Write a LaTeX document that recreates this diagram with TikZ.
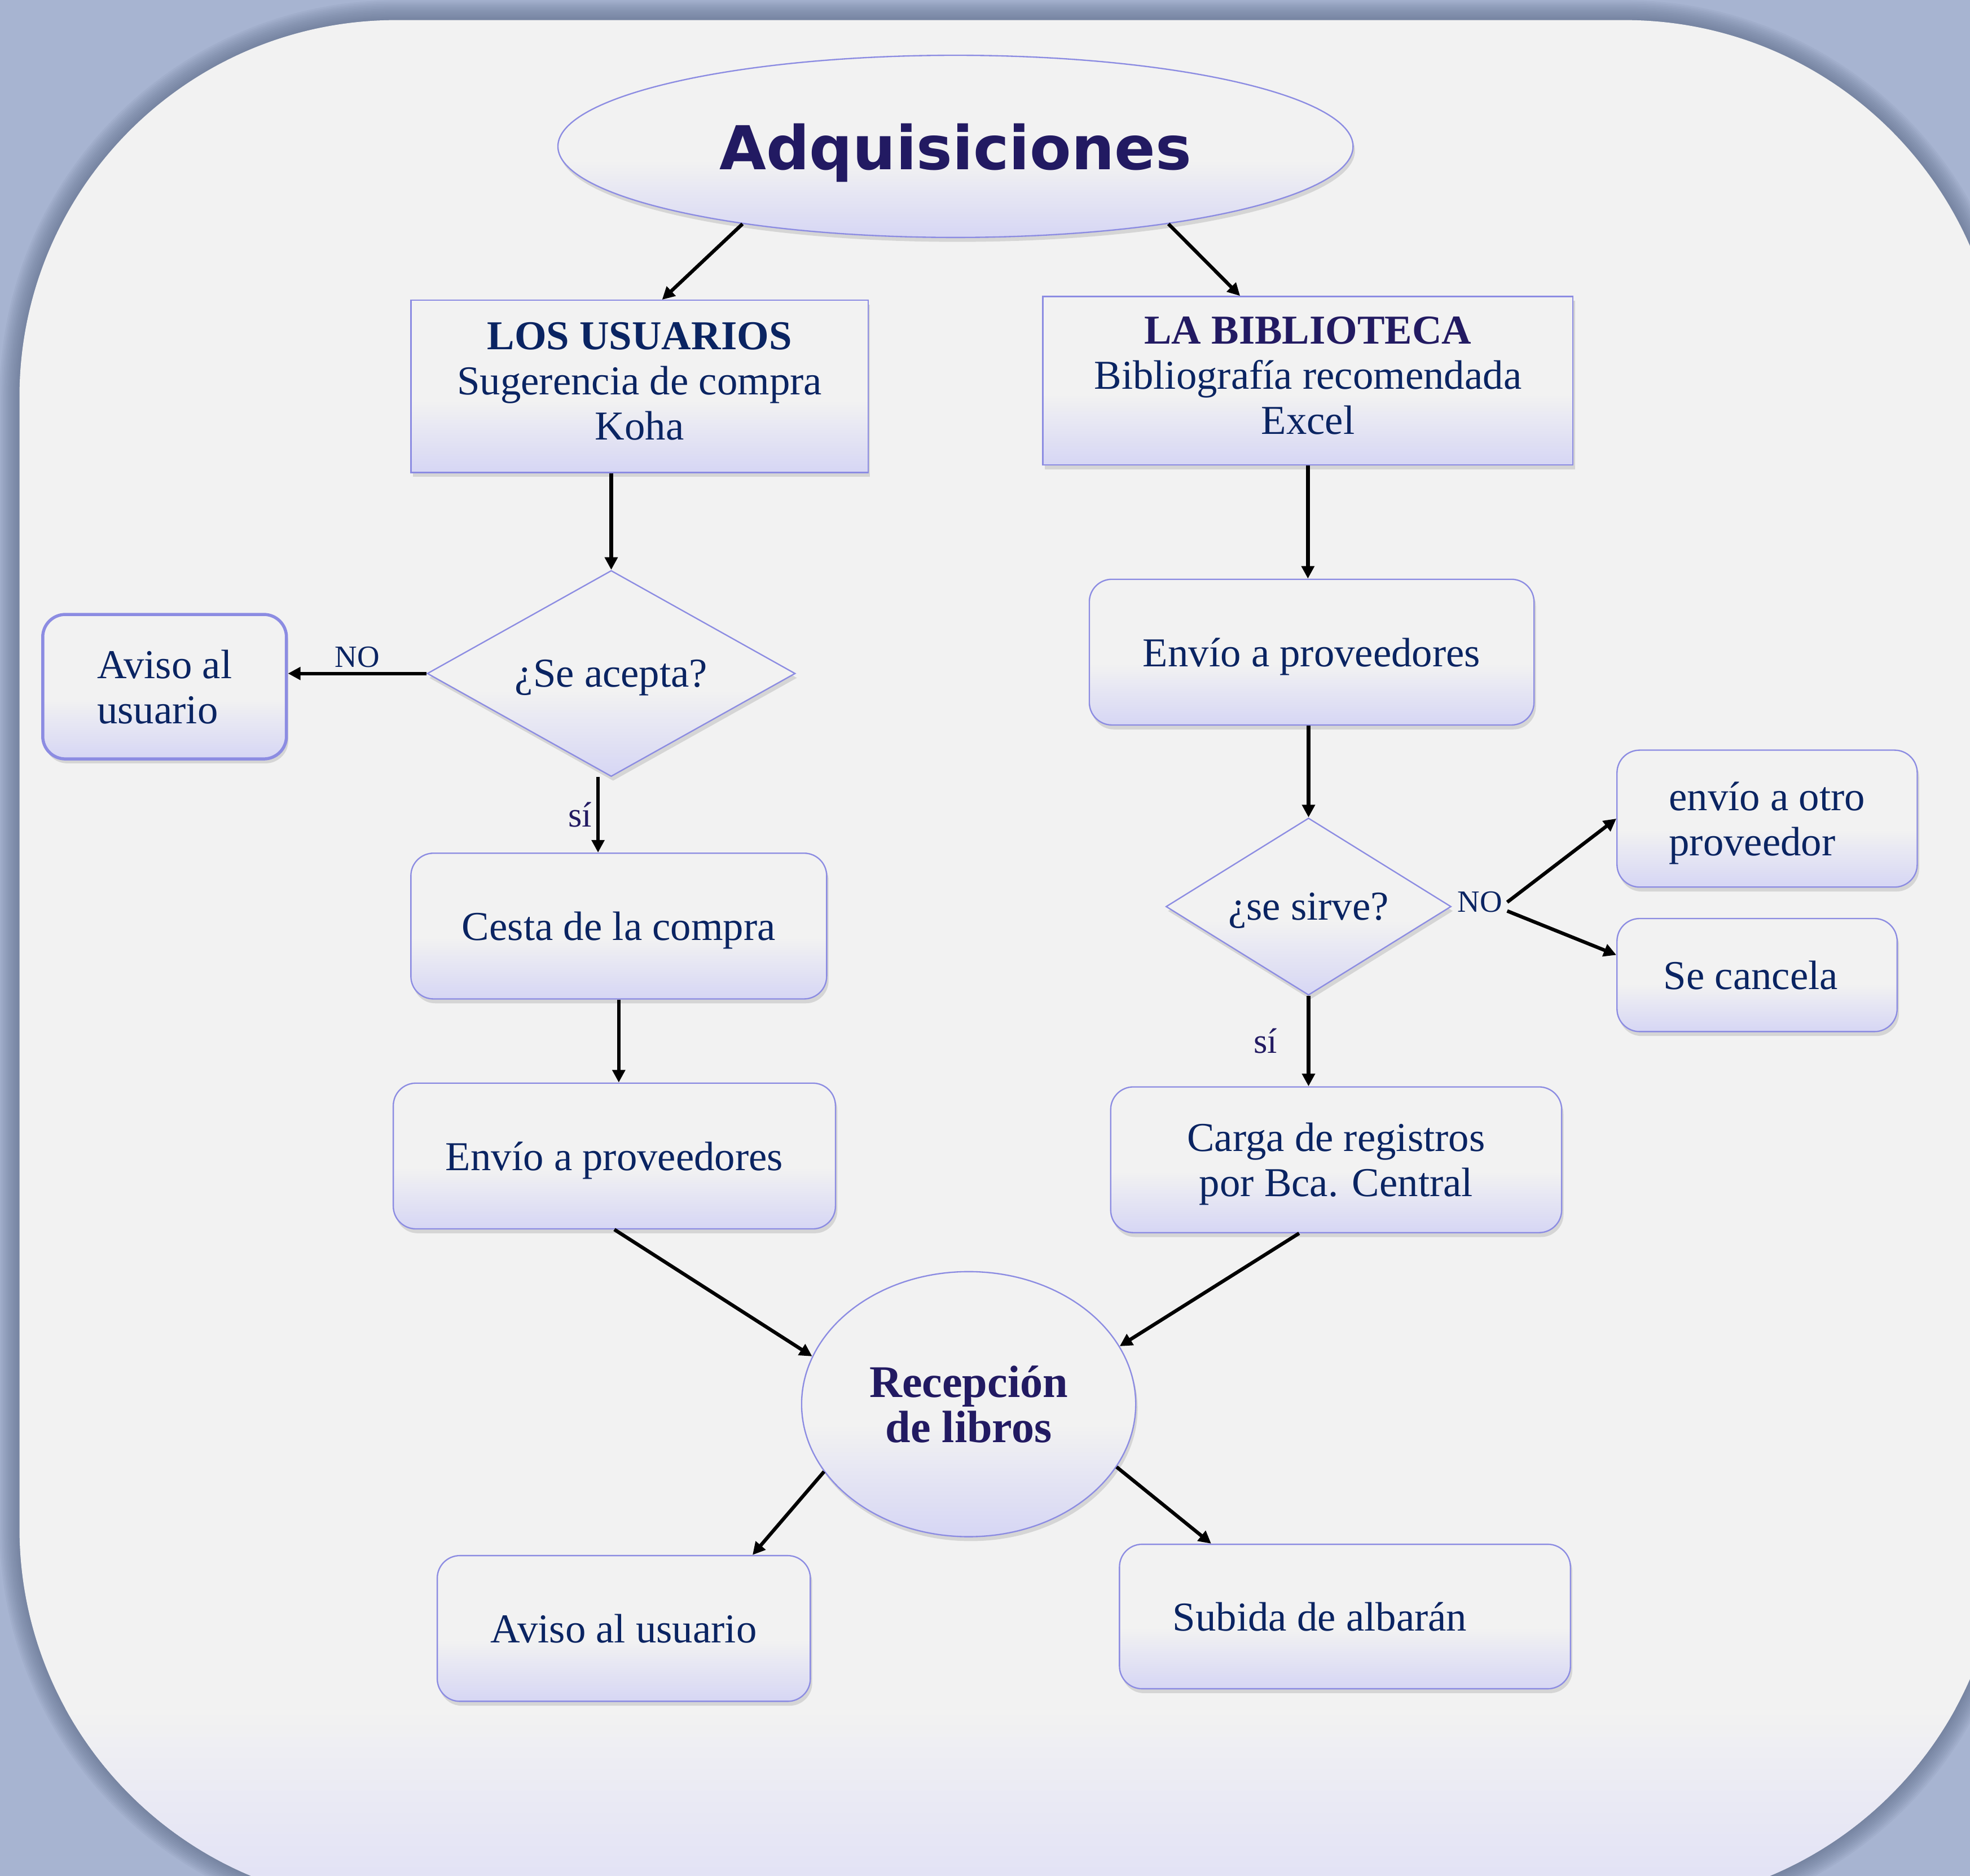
\documentclass[tikz,border=0pt]{standalone}
\usepackage{fontspec}
\setmainfont{Liberation Serif}
\newfontfamily\verdfont{DejaVu Sans}
\usetikzlibrary{shapes.geometric,shadows,arrows.meta}
\definecolor{tela}{HTML}{A7B4D1}
\definecolor{telaosc}{HTML}{5E6C8A}
\definecolor{pan}{HTML}{F2F2F2}
\definecolor{lav}{HTML}{D6D6F4}
\definecolor{panlav}{HTML}{E0E0F6}
\definecolor{borde}{HTML}{8C8CE2}
\definecolor{azul}{HTML}{0A2462}
\definecolor{indigo}{HTML}{221A62}
\pgfdeclareverticalshading{sombreado}{100bp}{color(0bp)=(lav); color(25bp)=(lav); color(46bp)=(pan); color(100bp)=(pan)}
\newcommand\cuerpo{\fontsize{18.6}{20.5}\selectfont}
\tikzset{
  base/.style={draw=borde, line width=0.6pt, shading=sombreado, text=azul, font=\cuerpo,
    align=center, inner sep=0pt, text depth=0pt,
    drop shadow={shadow xshift=0.03cm, shadow yshift=-0.07cm, opacity=0.25}},
  proceso/.style={base, rectangle, rounded corners=0.36cm},
  encabezado/.style={base, rectangle, text depth=0.17cm},
  decision/.style={base, diamond},
  circulo/.style={base, ellipse},
  flecha/.style={-{Triangle[length=0.2cm,width=0.2cm]}, line width=1.6pt, black},
  etiqueta/.style={text=azul, font=\fontsize{14}{16}\selectfont, inner sep=2pt},
  etsi/.style={text=indigo, font=\fontsize{16}{18}\selectfont, inner sep=2pt}
}

\begin{document}
\begin{tikzpicture}[x=0.02cm,y=-0.02cm]
\useasboundingbox (0,0) rectangle (1568,1493);
\clip (0,0) rectangle (1568,1493);
\fill[tela] (0,0) rectangle (1568,1493);
\foreach \w in {1,...,12}
  \draw[telaosc, opacity=0.07, line width=\w*1.5pt, rounded corners=6cm] (15.5,16) rectangle (1593,1516);
\fill[pan, rounded corners=6cm] (15.5,16) rectangle (1593,1516);
\begin{scope}
\clip[rounded corners=6cm] (15.5,16) rectangle (1593,1516);
\shade[top color=pan, bottom color=panlav] (0,1360) rectangle (1600,1516);
\end{scope}

\node[circulo, minimum width=12.66cm, minimum height=2.9cm, text=indigo,
  font=\verdfont\bfseries\fontsize{27.4}{32}\selectfont] (titulo) at (760.5,116.5) {Adquisiciones};
\node[encabezado, minimum width=7.28cm, minimum height=2.74cm] (usuarios) at (509,307.5)
  {{\bfseries LOS USUARIOS}\\Sugerencia de compra\\Koha};
\node[encabezado, minimum width=8.44cm, minimum height=2.68cm] (biblioteca) at (1041,303)
  {{\bfseries\color{indigo}LA BIBLIOTECA}\\Bibliografía recomendada\\Excel};
\node[decision, minimum width=5.86cm, minimum height=3.28cm, shape aspect=1.8] (acepta) at (486.5,536) {¿Se acepta?};
\node[proceso, minimum width=3.88cm, minimum height=2.3cm, line width=1.4pt, align=left] (avisoA) at (131,546.5) {Aviso al\\usuario};
\node[proceso, minimum width=6.62cm, minimum height=2.32cm] (cesta) at (492.5,737) {Cesta de la compra};
\node[proceso, minimum width=7.04cm, minimum height=2.32cm] (envioA) at (489,920) {Envío a proveedores};
\node[proceso, minimum width=7.08cm, minimum height=2.32cm] (envioB) at (1044,519) {Envío a proveedores};
\node[decision, minimum width=4.54cm, minimum height=2.82cm, shape aspect=1.6] (sirve) at (1041.5,721.5) {¿se sirve?};
\node[etiqueta] (no) at (1178,718) {NO};
\node[proceso, minimum width=4.78cm, minimum height=2.18cm, align=left] (otro) at (1406.5,651.5) {envío a otro\\proveedor};
\node[proceso, minimum width=4.46cm, minimum height=1.8cm] (cancela) at (1398.5,776) {Se cancela\hspace*{0.2cm}};
\node[proceso, minimum width=7.18cm, minimum height=2.32cm] (carga) at (1063.5,923) {Carga de registros\\por Bca. Central};
\node[circulo, minimum width=5.32cm, minimum height=4.22cm, text=indigo,
  font=\bfseries\fontsize{20.5}{20.5}\selectfont] (recepcion) at (771,1117.5) {Recepción\\de libros};
\node[proceso, minimum width=5.94cm, minimum height=2.32cm] (avisoB) at (496.5,1296) {Aviso al usuario};
\node[proceso, minimum width=7.18cm, minimum height=2.3cm] (subida) at (1070.5,1286.5) {Subida de albarán\hspace*{0.8cm}};

\draw[flecha] (titulo.200) -- ([xshift=0.36cm]usuarios.north);
\draw[flecha] (titulo.-20) -- ([xshift=-1.08cm]biblioteca.north);
\draw[flecha] (usuarios.south -| acepta.north) -- (acepta.north);
\draw[flecha] (acepta.west) -- node[etiqueta, above] {NO} (acepta.west -| avisoA.east);
\draw[flecha] ([xshift=-0.21cm]acepta.south) -- node[etsi, left] {sí} ([xshift=-0.21cm]acepta.south |- cesta.north);
\draw[flecha] (cesta.south) -- (cesta.south |- envioA.north);
\draw[flecha] (biblioteca.south) -- (biblioteca.south |- envioB.north);
\draw[flecha] (sirve.north |- envioB.south) -- (sirve.north);
\draw[flecha] (no.east) -- (otro.west);
\draw[flecha] ([yshift=-0.14cm]no.east) -- ([yshift=0.32cm]cancela.west);
\draw[flecha] (sirve.south) -- node[etsi, left=0.4cm] {sí} (sirve.south |- carga.north);
\draw[flecha] (envioA.south) -- (recepcion.163);
\draw[flecha] ([xshift=-0.59cm]carga.south) -- (recepcion.21);
\draw[flecha] (recepcion.205) -- ([xshift=2.05cm]avisoB.north);
\draw[flecha] (recepcion.-23) -- ([xshift=-2.13cm]subida.north);
\end{tikzpicture}
\end{document}
